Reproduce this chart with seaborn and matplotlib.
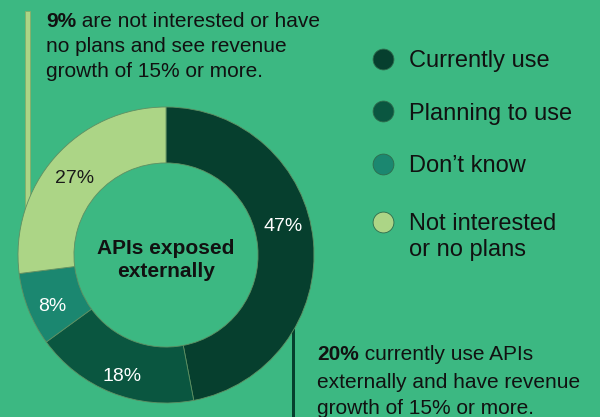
import numpy as np
import matplotlib
matplotlib.use("Agg")
import matplotlib.pyplot as plt
from matplotlib.lines import Line2D
from matplotlib.patches import Rectangle
from matplotlib.text import Annotation
from matplotlib.transforms import offset_copy
import seaborn as sns

categories = ["Currently use", "Planning to use", "Don\u2019t know", "Not interested"]
legend_extra = "or no plans"
shares = [47, 18, 8, 27]
slice_colors = ["#063f2e", "#0a5640", "#1b8770", "#acd586"]
center_title = "APIs exposed\nexternally"

note_top_bold = "9%"
note_top_rest = " are not interested or have"
note_top_more = "no plans and see revenue\ngrowth of 15% or more."
note_bottom_bold = "20%"
note_bottom_rest = " currently use APIs"
note_bottom_more = "externally and have revenue\ngrowth of 15% or more."

BG = "#3cb882"
INK = "#111111"

sns.set_theme(style="white", rc={"figure.facecolor": BG, "axes.facecolor": BG})
plt.rcParams["font.family"] = ["Liberation Sans", "DejaVu Sans"]
palette = sns.color_palette(slice_colors)

fig = plt.figure(figsize=(6, 4.17), dpi=100)
fig.patch.set_facecolor(BG)

# donut: centre (166, 255) px, outer radius 148 px
ax = fig.add_axes([18 / 600, 14 / 417, 296 / 600, 296 / 417])
wedges, texts, autotexts = ax.pie(
    shares,
    colors=palette,
    startangle=90,
    counterclock=False,
    radius=1,
    autopct=lambda p: f"{p:.0f}%",
    pctdistance=0.84,
    wedgeprops=dict(width=0.378, edgecolor="#5f8f62", linewidth=0.6),
    textprops=dict(fontsize=14, color="white", va="center_baseline"),
)
autotexts[3].set_color("#1a1a1a")
# the big slice label sits higher than its mid-angle
theta = np.deg2rad(14.5)
autotexts[0].set_position((0.82 * np.cos(theta), 0.82 * np.sin(theta)))
for t in autotexts[1:]:
    t.set_transform(offset_copy(ax.transData, fig=fig, x=1.5, y=-4, units="dots"))
ax.set_xlim(-1, 1)
ax.set_ylim(-1, 1)
ax.axis("off")

ax.text(0, -0.035, center_title, ha="center", va="center", fontsize=15,
        fontweight="bold", color=INK, linespacing=1.3)

# leader bars
ax.add_patch(Rectangle((-0.95, 0.3), 0.032, 1.35, facecolor=slice_colors[3],
                       edgecolor="#86ad68", linewidth=0.6, zorder=0.5, clip_on=False))
ax.add_patch(Rectangle((0.852, -1.3), 0.022, 0.9, facecolor=slice_colors[0],
                       edgecolor="none", zorder=0.5, clip_on=False))

# legend: first three rows, then the two-line last row
def dot(c):
    return Line2D([], [], marker="o", linestyle="", markersize=15,
                  markerfacecolor=c, markeredgecolor="#2f6b4c", markeredgewidth=0.6)

leg_kw = dict(loc="upper left", frameon=False, fontsize=17, handlelength=1,
              handletextpad=0.62, labelspacing=1.3, borderpad=0, borderaxespad=0,
              labelcolor=INK)
leg1 = fig.legend([dot(c) for c in slice_colors[:3]], categories[:3],
                  bbox_to_anchor=(371 / 600, 1 - 50 / 417), **leg_kw)
leg2 = fig.legend([dot(slice_colors[3])], categories[3:],
                  bbox_to_anchor=(371 / 600, 1 - 213 / 417), **leg_kw)
extra = Annotation(legend_extra, xy=(0, 0), xycoords=leg2.get_texts()[0],
                   xytext=(0, -3), textcoords="offset points", ha="left", va="top",
                   fontsize=17, color=INK, annotation_clip=False)
extra.set_zorder(10)
fig.add_artist(extra)

# notes with a bold lead-in
def note(x, y, bold, rest, more, gap, spacing):
    t1 = fig.text(x, y, bold, fontsize=15, fontweight="bold", color=INK,
                  ha="left", va="top")
    plt.annotate(rest, xy=(1, 0), xycoords=t1, ha="left", va="bottom",
                 fontsize=15, color=INK, annotation_clip=False, zorder=10)
    plt.annotate(more, xy=(0, 0), xycoords=t1, xytext=(0, -gap),
                 textcoords="offset points", ha="left", va="top",
                 fontsize=15, color=INK, linespacing=spacing,
                 annotation_clip=False, zorder=10)

note(46 / 600, 1 - 12 / 417, note_top_bold, note_top_rest, note_top_more, 4.5, 1.36)
note(317 / 600, 1 - 345 / 417, note_bottom_bold, note_bottom_rest, note_bottom_more, 6.8, 1.47)

fig.savefig("out.png", dpi=100, facecolor=BG)
